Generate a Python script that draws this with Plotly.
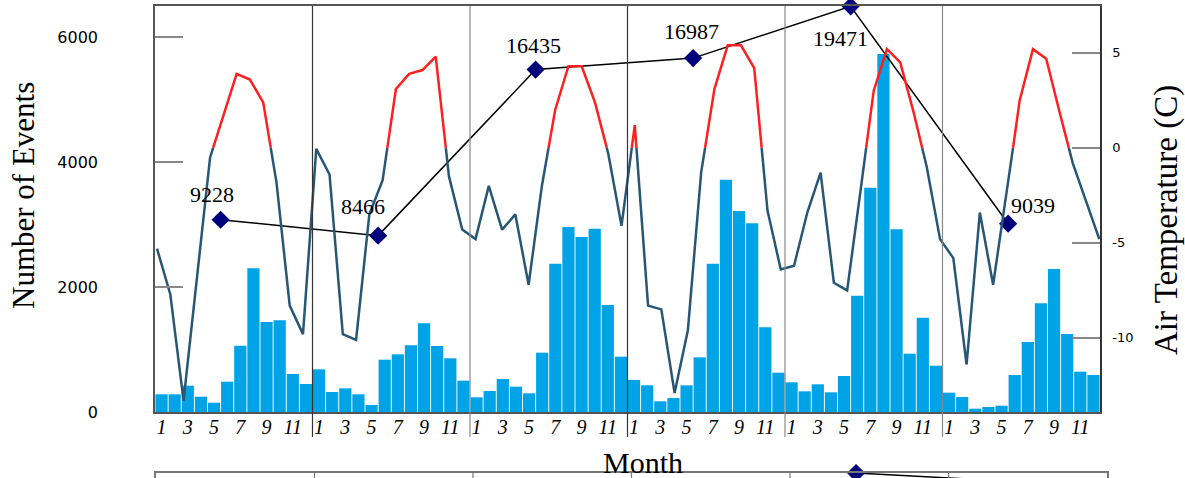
import plotly.graph_objects as go

# ---------------- data ----------------
month_labels = ["1", "3", "5", "7", "9", "11"]
n_years = 6

events = [283, 283, 421, 245, 149, 485, 1061, 2299, 1440, 1467, 608, 448,
          683, 320, 379, 283, 112, 837, 923, 1067, 1419, 1056, 859, 501,
          235, 336, 528, 405, 299, 949, 2373, 2960, 2800, 2933, 1712, 885,
          512, 427, 171, 224, 427, 875, 2373, 3717, 3216, 3019, 1355, 629,
          475, 331, 443, 315, 576, 1861, 3589, 5728, 2923, 933, 1509, 741,
          309, 240, 53, 80, 101, 592, 1120, 1739, 2288, 1248, 645, 592]

air_temp = [-5.3, -7.7, -13.3, -6.8, -0.5, 1.7, 3.9, 3.6, 2.4, -1.8, -8.3, -9.8,
            -0.05, -1.4, -9.8, -10.1, -3.5, -1.7, 3.1, 3.9, 4.1, 4.8, -1.5, -4.3,
            -4.8, -2.0, -4.3, -3.5, -7.2, -2.0, 2.0, 4.3, 4.3, 2.4, -0.3, -4.1,
            1.2, -8.3, -8.5, -12.9, -9.6, -1.3, 3.1, 5.4, 5.4, 4.2, -3.3, -6.4,
            -6.2, -3.4, -1.3, -7.1, -7.5, -2.3, 3.0, 5.2, 4.5, 1.9, -1.0, -4.8,
            -5.8, -11.4, -3.4, -7.2, -2.5, 2.5, 5.2, 4.7, 1.9, -0.8, -2.8, -4.8]

annual_totals = [9228, 8466, 16435, 16987, 19471, 9039]
# next (lower) chart, only its last two markers reach into view
lower_totals = [None, None, None, None, 6500, 6160]

left_ticks = [0, 2000, 4000, 6000]
right_ticks = [-10, -5, 0, 5]
right_ticktext = ["-10", "-5", "0", "5"]

# ---------------- geometry helpers ----------------
FIG_W, FIG_H = 1185, 478
PL, PR, PT, PB = 155, 1107, 6, 478
PW, PH = PR - PL, PB - PT


def px(x):
    return (x - PL) / PW


def py(y):
    return (PB - y) / PH


months = list(range(1, 12 * n_years + 1))
year_mid = [12 * i + 5.5 for i in range(n_years)]
separators = [12 * i + 0.5 for i in range(1, n_years)]
sep_colors = ["#333333", "#888888", "#333333", "#888888", "#888888"]

# ---------------- temperature split at 0 C ----------------
blue = {"x": [], "y": []}
red = {"x": [], "y": []}


def add_piece(store, xa, ya, xb, yb):
    if store["x"] and store["x"][-1] == xa and store["y"][-1] == ya:
        store["x"].append(xb)
        store["y"].append(yb)
    else:
        if store["x"]:
            store["x"].append(None)
            store["y"].append(None)
        store["x"] += [xa, xb]
        store["y"] += [ya, yb]


for i in range(len(air_temp) - 1):
    x0, y0 = months[i], air_temp[i]
    x1, y1 = months[i + 1], air_temp[i + 1]
    if (y0 > 0) != (y1 > 0) and y0 != y1:
        xc = x0 + (0 - y0) * (x1 - x0) / (y1 - y0)
        pieces = [(x0, y0, xc, 0.0), (xc, 0.0, x1, y1)]
    else:
        pieces = [(x0, y0, x1, y1)]
    for (xa, ya, xb, yb) in pieces:
        store = red if (ya + yb) / 2 > 0 else blue
        add_piece(store, xa, ya, xb, yb)

fig = go.Figure()

fig.add_trace(go.Bar(
    x=months, y=events, xaxis="x", yaxis="y",
    marker=dict(color="#00A3E6", line=dict(width=0)),
    showlegend=False))

fig.add_trace(go.Scatter(
    x=blue["x"], y=blue["y"], xaxis="x3", yaxis="y2", mode="lines",
    line=dict(color="#285675", width=2.5), showlegend=False))
fig.add_trace(go.Scatter(
    x=red["x"], y=red["y"], xaxis="x3", yaxis="y2", mode="lines",
    line=dict(color="#FF1F1F", width=2.5), showlegend=False))

fig.add_trace(go.Scatter(
    x=year_mid, y=annual_totals, xaxis="x", yaxis="y4", mode="lines+markers",
    line=dict(color="black", width=1.5),
    marker=dict(symbol="diamond", size=14, color="#00007A"),
    cliponaxis=False, showlegend=False))

fig.add_trace(go.Scatter(
    x=year_mid, y=lower_totals, xaxis="x2", yaxis="y3", mode="lines+markers",
    line=dict(color="black", width=1.5),
    marker=dict(symbol="diamond", size=14, color="#00007A"),
    cliponaxis=False, showlegend=False))

# total labels
offsets = [(-9, 25), (-15, 29), (-2, 24), (-2, 27), (-10, -32), (25, 18)]
annotations = []
for xm, tot, (dx, dy) in zip(year_mid, annual_totals, offsets):
    annotations.append(dict(
        x=xm, y=tot, xref="x", yref="y4", text=str(tot), showarrow=False,
        xshift=dx, yshift=dy, xanchor="center", yanchor="middle",
        font=dict(family="Liberation Serif", size=22, color="black")))

annotations += [
    dict(x=px(23), y=py(196), xref="paper", yref="paper", text="Number of Events",
         textangle=-90, showarrow=False, xanchor="center", yanchor="middle",
         font=dict(family="Liberation Serif", size=31, color="black")),
    dict(x=px(1166), y=py(220), xref="paper", yref="paper", text="Air Temperature (C)",
         textangle=-90, showarrow=False, xanchor="center", yanchor="middle",
         font=dict(family="Liberation Serif", size=33, color="black")),
    dict(x=px(643), y=py(462), xref="paper", yref="paper", text="Month",
         showarrow=False, xanchor="center", yanchor="middle",
         font=dict(family="Liberation Serif", size=30, color="black")),
]

shapes = []
for s, c in zip(separators, sep_colors):
    shapes.append(dict(type="line", xref="x", yref="y domain", x0=s, x1=s,
                       y0=(412 - 437) / (412 - 6), y1=1, layer="above",
                       line=dict(color=c, width=1.2)))
    shapes.append(dict(type="line", xref="x2", yref="y3 domain", x0=s, x1=s,
                       y0=0, y1=1, layer="above",
                       line=dict(color="#777777", width=1.2)))

main_xdom = [0, px(1100)]
main_ydom = [py(412), 1]

fig.update_layout(
    width=FIG_W, height=FIG_H,
    margin=dict(l=PL, r=FIG_W - PR, t=PT, b=FIG_H - PB, autoexpand=False),
    paper_bgcolor="white", plot_bgcolor="white",
    bargap=0.07, showlegend=False,
    annotations=annotations, shapes=shapes,
    xaxis=dict(domain=main_xdom, anchor="y", range=[0.5, 72.5],
               tickvals=[12 * p + int(m) for p in range(n_years) for m in month_labels],
               ticktext=month_labels * n_years,
               tickfont=dict(family="Liberation Serif", size=20, color="black", style="italic"),
               ticks="", ticklabelstandoff=-4, showgrid=False, zeroline=False,
               showline=True, linecolor="#555555", linewidth=1.5, mirror=True,
               automargin=False),
    xaxis3=dict(overlaying="x", range=[0.849, 72.053], visible=False,
                showgrid=False, zeroline=False),
    yaxis=dict(domain=main_ydom, anchor="x", range=[0, 6496],
               tickvals=left_ticks, ticks="inside", ticklen=28, tickwidth=1.5,
               tickcolor="#888888", ticklabelstandoff=52,
               tickfont=dict(family="DejaVu Sans", size=16, color="black"),
               showgrid=False, zeroline=False,
               showline=True, linecolor="#555555", linewidth=1.5,
               automargin=False),
    yaxis2=dict(overlaying="y", anchor="x", side="right", range=[-13.9, 7.47],
                tickvals=right_ticks, ticktext=right_ticktext,
                ticks="inside", ticklen=28, tickwidth=1.5, tickcolor="#888888",
                ticklabelstandoff=8,
                tickfont=dict(family="DejaVu Sans", size=13, color="black"),
                showgrid=False, zeroline=False,
                showline=True, linecolor="#333333", linewidth=1.5,
                automargin=False),
    yaxis4=dict(overlaying="y", range=[0, 3 * 6496], visible=False,
                showgrid=False, zeroline=False),
    xaxis2=dict(domain=[px(156), 1], anchor="y3", range=[0.5, 72.5], side="top",
                showticklabels=False, ticks="", showgrid=False, zeroline=False,
                showline=True, linecolor="#777777", linewidth=1.5,
                automargin=False),
    yaxis3=dict(domain=[0, py(473)], anchor="x2", range=[6300, 6500],
                showticklabels=False, ticks="", showgrid=False, zeroline=False,
                showline=True, linecolor="#777777", linewidth=1.5, mirror=True,
                automargin=False),
)

fig.write_html("out.html",
               config={"displayModeBar": False},
               post_script="document.body.style.margin='0px';"
                           "document.body.style.overflow='hidden';")
